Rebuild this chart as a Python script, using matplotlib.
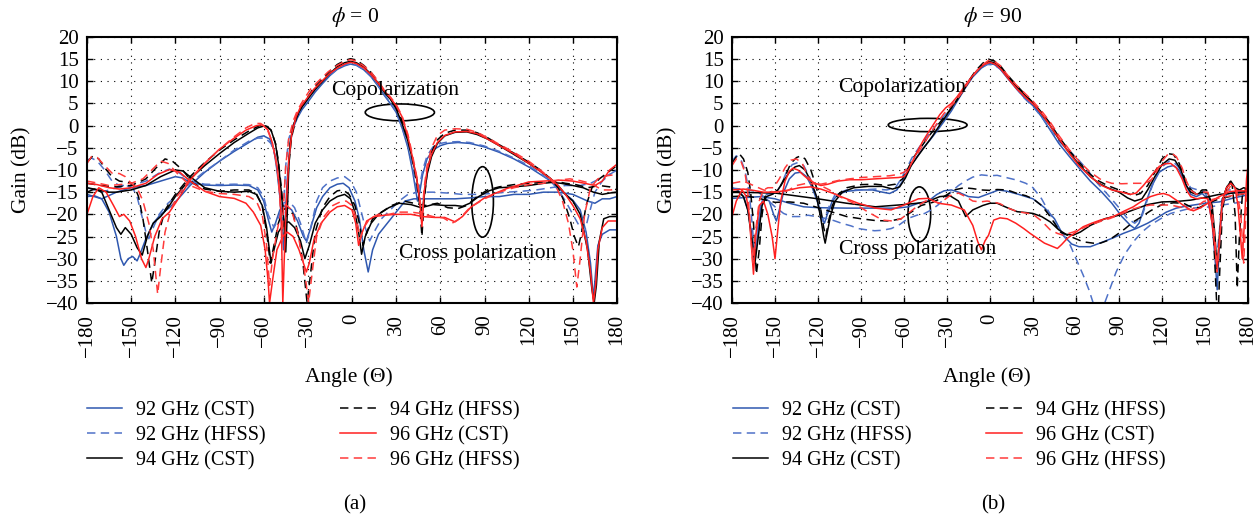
import matplotlib.pyplot as plt
import numpy as np
from matplotlib.patches import Ellipse

plt.rcParams["font.family"] = ["Liberation Serif", "DejaVu Serif"]
plt.rcParams["mathtext.fontset"] = "stix"

# ---------------- panel (a): phi = 0 ----------------
# copolarization
A_CO_92_CST = [(-180, -16), (-175, -15.8), (-170, -16.5), (-165, -19.5), (-160, -25), (-157, -30), (-155, -31.5),
               (-152, -30), (-149, -29.5), (-146, -30.5), (-144, -29), (-140, -25.5), (-135, -22), (-130, -20),
               (-124, -18.5), (-118, -16.5), (-110, -13.5), (-100, -10.5), (-90, -8), (-80, -5.8), (-70, -3.8),
               (-64, -2.6), (-60, -2.3), (-56, -3), (-53, -5.5), (-51, -10), (-49, -16), (-47.5, -23), (-46.5, -28),
               (-45.5, -22), (-44, -12), (-42, -4), (-40, -0.5), (-37, 1.8), (-34, 3.6), (-30, 5.3), (-25, 7.6),
               (-20, 9.5), (-15, 11.3), (-10, 12.7), (-5, 13.5), (-1, 13.9), (3, 13.6), (8, 12.6), (13, 11),
               (18, 8.8), (22, 6.8), (26, 5), (30, 3), (34, -0.5), (38, -5), (41, -10), (43, -14), (44.5, -17),
               (46, -15), (48, -11), (51, -7.5), (55, -5.5), (60, -4.5), (65, -4), (72, -3.8), (80, -4), (90, -4.8),
               (100, -6), (110, -7.5), (120, -9.3), (128, -11), (135, -12.5), (140, -14), (145, -15.5), (150, -16.8),
               (155, -19), (159, -24), (162, -31), (164, -39), (165.5, -33), (167, -27), (170, -24.5), (175, -23.5),
               (180, -23.5)]
A_CO_92_HFSS = [(-180, -7.8), (-177, -7.3), (-173, -8), (-168, -10), (-163, -12.5), (-158, -13.5), (-153, -13.5),
                (-149, -14), (-146, -16), (-143, -20), (-140, -24), (-138, -25.5), (-135, -23), (-131, -20),
                (-125, -17.5), (-118, -15.5), (-110, -13), (-100, -10.3), (-90, -8), (-80, -5.5), (-70, -3.5),
                (-64, -2.8), (-59, -2.8), (-55, -4), (-52, -7), (-50, -12), (-48.5, -18), (-47.5, -25),
                (-46.5, -18), (-45, -9), (-43, -3), (-40, 0), (-37, 2.3), (-33, 4.5), (-28, 7), (-22, 9.2),
                (-16, 11.2), (-10, 12.8), (-5, 13.7), (-1, 14), (3, 13.7), (8, 12.7), (13, 11.2), (18, 9), (22, 7),
                (26, 5.2), (30, 3.2), (34, -0.3), (38, -4.5), (41, -9), (43, -13), (44.5, -15.5), (46, -13.5),
                (48, -10), (51, -6.8), (55, -4.8), (60, -4), (65, -3.7), (72, -3.6), (80, -3.8), (90, -4.6),
                (100, -5.8), (110, -7.3), (120, -9), (128, -10.8), (135, -12.5), (140, -14.5), (145, -17),
                (150, -20), (155, -23), (158, -24), (161, -20), (165, -15), (170, -12.5), (175, -11), (180, -10)]
A_CO_94_CST = [(-180, -15), (-175, -14.3), (-170, -15), (-165, -19), (-160, -23), (-157, -24.5), (-154, -23),
               (-150, -24.5), (-146, -27.5), (-142.5, -29.2), (-139, -25), (-135, -22), (-130, -20.5), (-125, -18.5),
               (-120, -16), (-110, -12), (-100, -9), (-90, -6.3), (-80, -3.8), (-70, -1.7), (-64, -0.5), (-59, 0),
               (-55, -1), (-52, -4), (-50, -8.5), (-48, -15), (-46.5, -21), (-45, -28.5), (-44, -20), (-43, -10),
               (-42, -4), (-40, 0), (-37, 2.5), (-34, 4.2), (-30, 6), (-25, 8.2), (-20, 10), (-15, 11.8),
               (-10, 13.3), (-5, 14.2), (-1, 14.5), (3, 14.2), (8, 13.2), (13, 11.6), (18, 9.5), (22, 7.5),
               (26, 6), (30, 3.8), (34, 0.5), (38, -3.5), (41, -7.5), (44, -12), (46, -17), (47.5, -20),
               (49, -16), (51, -11), (54, -7), (58, -4), (63, -2.3), (70, -1.5), (78, -1.4), (85, -2), (92, -3),
               (100, -4.5), (110, -6.5), (120, -8.5), (128, -10.3), (135, -12), (140, -13.5), (145, -15.5),
               (150, -17), (155, -20), (160, -28), (163, -37), (164.5, -40), (166, -36), (168, -26), (171, -21),
               (175, -20.5), (180, -20.5)]
A_CO_94_HFSS = [(-180, -8.3), (-176, -6.8), (-172, -7.5), (-168, -9.5), (-163, -11.5), (-158, -12.5), (-152, -12.8),
                (-148, -13.5), (-145, -16), (-142, -21), (-139, -28), (-136, -35.5), (-134, -31), (-131, -24),
                (-127, -19), (-120, -15.5), (-110, -11.5), (-100, -8.3), (-90, -5.5), (-80, -3.2), (-70, -1.2),
                (-63, 0), (-59, 0.2), (-55, -1), (-52, -4), (-50, -8), (-48, -14), (-46.5, -20), (-45.5, -27),
                (-44.5, -19), (-43, -9), (-41, -2.5), (-38, 1.5), (-35, 3.8), (-31, 6), (-26, 8.5), (-20, 10.5),
                (-15, 12.3), (-10, 13.8), (-5, 14.7), (-1, 15.1), (3, 14.8), (8, 13.6), (13, 12), (18, 9.8),
                (22, 7.8), (26, 6.2), (30, 4.2), (34, 1.2), (38, -3), (41, -7.5), (44, -13), (46, -18),
                (47.5, -25), (49, -17), (51, -10.5), (54, -6), (58, -3.2), (63, -1.7), (70, -1), (78, -1),
                (85, -1.6), (92, -2.7), (100, -4.3), (110, -6.2), (120, -8.2), (128, -10), (135, -12), (140, -14),
                (144, -17), (148, -21), (151, -25), (153.8, -27.3), (156, -24), (159, -18), (163, -14), (168, -12),
                (174, -10.5), (180, -9)]
A_CO_96_CST = [(-180, -20), (-176, -16), (-172, -14), (-167, -15), (-162, -18), (-158, -20.5), (-155, -20),
               (-151, -21.5), (-147, -25), (-143, -30), (-140, -32), (-138, -30), (-134, -25), (-129, -21),
               (-124, -19.5), (-118, -16.5), (-110, -12.3), (-100, -8.5), (-90, -5.3), (-80, -2.8), (-72, -1),
               (-65, 0), (-61, 0.2), (-57, -1), (-54, -4), (-51, -9), (-49, -15), (-48, -22), (-47, -40),
               (-46, -30), (-45, -20), (-43, -8), (-41, -2), (-38, 2), (-35, 4.2), (-31, 6), (-26, 8.2),
               (-20, 10.2), (-15, 11.8), (-10, 13), (-5, 13.9), (-1, 14.3), (3, 14), (8, 13), (13, 11.5),
               (18, 9.5), (22, 7.8), (26, 6.3), (30, 4.5), (34, 2), (38, -2.5), (41, -7), (44, -12), (46, -17),
               (47.5, -22.8), (49, -15), (51, -10), (54, -6.5), (58, -3.8), (63, -2.2), (70, -1.4), (78, -1.3),
               (85, -1.8), (92, -3), (100, -4.5), (110, -6.3), (120, -8.5), (128, -10.3), (135, -12), (140, -13.5),
               (145, -15.5), (150, -18), (155, -21), (159, -26), (162, -33), (164, -40), (165.5, -36), (167, -28),
               (170, -23), (174, -21.5), (180, -21.5)]
A_CO_96_HFSS = [(-180, -8.5), (-177, -7), (-173, -7.2), (-168, -9), (-163, -10.7), (-158, -10.8), (-154, -11.5),
                (-150, -13), (-146, -14), (-142, -17), (-138, -22), (-135, -28), (-132, -38), (-130, -32),
                (-127, -24), (-123, -19), (-119, -16), (-110, -12), (-100, -8.5), (-90, -5.3), (-80, -2.5),
                (-72, -0.5), (-66, 0.5), (-62, 0.5), (-58, -0.5), (-55, -3), (-52, -7), (-50, -12), (-48.5, -19),
                (-47.5, -26), (-46.5, -18), (-45, -9), (-43, -3), (-40, 1), (-37, 3.5), (-33, 5.8), (-28, 8.3),
                (-22, 10.3), (-16, 12.2), (-10, 13.6), (-5, 14.5), (-1, 14.9), (3, 14.6), (8, 13.5), (13, 12),
                (18, 10), (22, 8), (26, 6.5), (30, 4.8), (34, 2.2), (38, -2), (41, -6.5), (44, -11.5), (46, -16),
                (47.5, -21), (49, -14), (51, -9), (54, -5), (58, -2.2), (63, -1), (70, -0.7), (78, -0.8),
                (85, -1.5), (92, -2.7), (100, -4.2), (110, -6), (120, -8), (128, -10), (135, -12), (139, -14),
                (143, -17), (147, -22), (150, -28), (152.7, -36.4), (155, -30), (158, -20), (162, -14), (167, -12),
                (173, -11.3), (180, -11)]
# cross polarization
A_X_92_CST = [(-180, -15.5), (-170, -16.5), (-160, -15), (-150, -14), (-140, -13.5), (-130, -12.5), (-120, -11.5),
              (-115, -11.8), (-110, -12.8), (-100, -13.4), (-90, -13.5), (-80, -13.4), (-70, -13.5), (-64, -14.5),
              (-60, -17), (-57, -21), (-54.5, -24), (-52, -22), (-49, -19), (-45, -18), (-41, -19), (-37, -21.5),
              (-33, -25), (-31, -26), (-28, -23), (-24, -18.5), (-20, -16), (-15, -14), (-10, -13.2), (-6, -13),
              (-2, -14), (2, -17), (5, -21), (8, -28), (11, -33), (14, -28), (18, -24.5), (24, -22), (30, -19.5),
              (36, -17), (42, -16.5), (50, -16.5), (60, -16.5), (70, -16.5), (80, -16.3), (90, -16), (100, -16),
              (110, -15.5), (120, -15.5), (130, -15), (140, -15), (150, -15.5), (160, -17), (165, -17.5),
              (170, -16.5), (175, -16.5), (180, -16)]
A_X_92_HFSS = [(-180, -14), (-170, -15), (-160, -14), (-150, -13.5), (-140, -12.5), (-130, -10.5), (-124, -9.8),
               (-118, -10.5), (-110, -12.5), (-100, -13.2), (-90, -13.3), (-80, -13.2), (-70, -13.3), (-64, -14),
               (-60, -16), (-57, -20), (-53, -23), (-50, -21), (-47, -17.5), (-43, -17), (-39, -18.5), (-35, -22),
               (-31, -26.5), (-28, -23), (-24, -17), (-20, -14), (-15, -12.5), (-10, -11.8), (-5, -11.5),
               (-1, -12.5), (3, -15), (6, -19), (9, -23), (12, -26), (15, -24), (20, -21), (26, -19), (32, -17),
               (38, -15.5), (45, -15), (55, -15), (65, -15.2), (75, -15.5), (85, -15.5), (95, -15.3), (105, -15),
               (115, -14.8), (125, -14.5), (135, -14), (145, -13.5), (155, -13.5), (162, -13), (168, -12),
               (175, -11), (180, -10.5)]
A_X_94_CST = [(-180, -14), (-172, -14.5), (-165, -15), (-160, -15), (-150, -14.5), (-140, -13.5), (-130, -11.5),
              (-120, -10), (-115, -10.2), (-110, -11.5), (-100, -14), (-90, -14.8), (-80, -15), (-70, -14.8),
              (-65, -15.5), (-61, -18), (-58, -23), (-55, -31), (-53, -28), (-50, -24), (-46, -22), (-43, -21.7),
              (-39, -23), (-35, -26), (-32, -30), (-29, -27), (-25, -22), (-20, -19), (-15, -17), (-10, -16),
              (-5, -15.5), (-1, -16.5), (2, -19.5), (4.5, -24), (6.5, -29), (9, -25), (13, -22), (18, -20),
              (25, -18.5), (32, -17.5), (40, -17.8), (47, -18.5), (55, -17.8), (63, -18), (70, -18), (75, -18.2),
              (80, -17.5), (86, -16), (93, -14.7), (100, -14), (110, -13.8), (120, -13.5), (130, -13), (136, -12.8),
              (142, -13), (150, -13.5), (157, -14), (164, -15), (170, -15.5), (175, -15.2), (180, -15)]
A_X_94_HFSS = [(-180, -13), (-170, -13.5), (-160, -13.8), (-150, -13.5), (-140, -12), (-133, -9.5), (-127, -7.5),
               (-122, -8), (-115, -10), (-108, -13), (-100, -14.3), (-90, -14.8), (-80, -14.5), (-70, -14.5),
               (-65, -15.3), (-61, -18), (-58, -24), (-55.5, -31), (-53, -27), (-50, -22), (-47, -19), (-44, -18.5),
               (-40, -20), (-36, -25), (-33, -32), (-30.5, -40), (-28, -33), (-25, -24), (-20, -18.5), (-15, -16),
               (-10, -14.7), (-6, -14.5), (-2, -15.5), (2, -18), (5, -22), (7.5, -27), (10, -24), (14, -21),
               (20, -19.5), (27, -18), (35, -17), (42, -17.5), (50, -18), (58, -17.5), (65, -18.5), (72, -18.7),
               (78, -18), (85, -16), (92, -14.5), (100, -13.8), (110, -13.3), (120, -13), (130, -12.8),
               (138, -12.5), (145, -13), (152, -13.3), (160, -14), (168, -13.5), (175, -13.8), (180, -14.5)]
A_X_96_CST = [(-180, -13), (-173, -13.3), (-165, -14), (-158, -14.3), (-150, -14), (-140, -13), (-132, -11),
              (-124, -9.9), (-117, -10.5), (-110, -12.5), (-100, -14.8), (-90, -16), (-80, -16.4), (-72, -17.5),
              (-67, -19.5), (-62, -22.5), (-59, -28), (-57, -35), (-56, -40), (-54, -35), (-51, -28), (-47, -25),
              (-44, -24), (-40, -25), (-36, -28), (-33, -31), (-31, -33), (-29, -31), (-26, -26), (-21, -22),
              (-15, -19.5), (-10, -18.3), (-5, -18), (0, -19), (2.5, -22), (4.5, -27), (7, -24), (10, -21.5),
              (15, -20.5), (22, -20.2), (30, -20), (40, -20), (48, -20.5), (56, -20.7), (63, -20.7), (70, -21.7),
              (75, -20.5), (81, -18.3), (90, -16.3), (97, -15.3), (105, -14.2), (115, -13.2), (120, -12.7),
              (130, -12.5), (142, -12.3), (150, -12.5), (158, -13), (165, -13.5), (170, -12.5), (175, -10),
              (180, -8.7)]
A_X_96_HFSS = [(-180, -12.5), (-172, -13), (-165, -13.5), (-158, -13.3), (-150, -13), (-142, -12), (-136, -10),
               (-130, -8), (-125, -8.5), (-118, -11), (-110, -13.5), (-100, -14.8), (-90, -15.3), (-80, -15.5),
               (-70, -16), (-65, -17), (-61, -20), (-58, -27), (-56, -36), (-54, -30), (-51, -24), (-48, -19),
               (-45, -17.8), (-41, -19), (-37, -24), (-33, -31), (-31, -36), (-29.5, -40), (-27, -33), (-24, -25),
               (-19, -20.5), (-13, -18), (-8, -17.2), (-4, -17), (0, -18), (3, -21), (5.5, -25.5), (8, -23),
               (12, -21), (18, -20), (25, -20), (32, -19.5), (40, -19.5), (47, -19.8), (55, -20.5), (62, -20.8),
               (68, -22), (73, -21), (80, -18.5), (90, -16.5), (100, -15), (110, -14), (120, -13.3), (130, -13),
               (140, -12.3), (148, -12), (155, -12.4), (162, -13), (170, -14.5), (176, -14.5), (180, -14)]

# ---------------- panel (b): phi = 90 ----------------
B_CO_92_CST = [(-180, -14), (-176, -14.5), (-172, -16), (-169, -19), (-166, -25), (-164.5, -30), (-163, -27),
               (-160, -18), (-157, -16.5), (-154, -17), (-151, -20), (-149, -21.5), (-147, -19), (-144, -15),
               (-140, -12), (-136, -10.7), (-132, -10.5), (-128, -11.5), (-124, -14), (-120, -17.5), (-117, -21),
               (-115.5, -22), (-113.5, -20), (-110, -17), (-106, -15.5), (-100, -14.8), (-90, -14.5), (-82, -14.5),
               (-75, -15), (-70, -15.3), (-65, -14.5), (-61, -12.5), (-57, -10), (-52, -7.5), (-47, -5.2),
               (-42, -3.3), (-37, -1.2), (-32, 1), (-27, 3.3), (-22, 6), (-17, 8.6), (-12, 11), (-6, 13), (-1, 14),
               (3, 13.8), (7, 12.8), (12, 10.8), (18, 8.5), (24, 6.3), (30, 4.5), (36, 2), (42, -1), (48, -4),
               (55, -6.8), (62, -9.5), (70, -12.5), (78, -15), (85, -17.5), (92, -20.5), (98, -22.5), (101, -23.2),
               (104, -22), (108, -18), (113, -13.5), (118, -10.5), (124, -9.3), (128, -9), (132, -10), (136, -13),
               (140, -15.5), (144, -16), (148, -15.3), (152, -16.5), (155, -22), (157, -30), (158.5, -37),
               (160, -27), (162, -18), (165, -15.5), (170, -15), (175, -15.5), (180, -15)]
B_CO_92_HFSS = [(-180, -8), (-177, -6.8), (-174, -7.5), (-171, -10), (-168, -15), (-166, -22), (-164, -30),
                (-162, -23), (-159, -17), (-156, -15.5), (-153, -15.3), (-150, -15.5), (-146, -13.5), (-142, -10.5),
                (-138, -8.8), (-134, -8.3), (-130, -9), (-126, -11.5), (-122, -15), (-119, -19), (-117, -21.5),
                (-115, -20.5), (-112, -18), (-108, -15.5), (-100, -14.5), (-90, -14.5), (-80, -14.3), (-72, -14.5),
                (-66, -14), (-62, -12), (-58, -9.5), (-54, -7), (-49, -4.7), (-44, -2.5), (-39, -0.5), (-34, 1.5),
                (-29, 3.3), (-24, 5.5), (-19, 8), (-14, 10.5), (-8, 12.8), (-2, 13.8), (3, 13.7), (7, 12.8),
                (12, 11), (18, 8.5), (24, 6.2), (30, 4.3), (36, 2), (42, -0.8), (48, -3.5), (55, -5.5), (62, -7.8),
                (68, -10), (75, -13), (82, -15.5), (90, -18.5), (96, -21), (101, -22), (106, -20.5), (110, -16.5),
                (115, -12), (120, -9.3), (125, -8), (128, -8.2), (132, -9.5), (136, -12), (140, -14), (145, -14.5),
                (150, -15), (154, -18), (156, -24), (158, -30), (160, -24), (162, -16), (165, -14.5), (170, -14.5),
                (175, -15), (180, -15.5)]
B_CO_94_CST = [(-180, -15), (-176, -14.8), (-172, -16), (-169, -19), (-166, -26), (-164, -31), (-162, -26),
               (-159, -18), (-156, -16), (-152, -15.5), (-148, -14.5), (-144, -12.5), (-140, -10.5), (-136, -9.3),
               (-133, -9), (-129, -10), (-125, -12.5), (-121, -16), (-118, -21), (-116, -25), (-115, -26.5),
               (-113.5, -24), (-111, -20), (-108, -17), (-103, -15), (-95, -14), (-85, -13.7), (-75, -13.7),
               (-68, -14.3), (-63, -13.8), (-59, -11.8), (-55, -9), (-50, -6.7), (-45, -4.5), (-40, -2.3),
               (-35, 0.2), (-30, 2.5), (-26, 4.5), (-22, 6.3), (-17, 8.8), (-12, 11.3), (-6, 13.4), (-1, 14.5),
               (3, 14.2), (7, 13.2), (12, 11.2), (18, 9), (24, 7), (30, 5), (36, 2.6), (42, 0), (48, -3), (55, -6),
               (62, -8.7), (70, -11.5), (76, -13), (82, -14), (90, -15), (96, -16.3), (101, -17), (106, -16.5),
               (110, -14.5), (115, -11.5), (120, -8.8), (125, -7.5), (129, -7.8), (133, -9.8), (137, -13.5),
               (140, -15), (144, -15.5), (148, -15), (152, -15.2), (155, -18), (157, -25), (158.5, -33), (160, -25),
               (162, -17), (165, -14), (168, -12.5), (171, -14), (174, -14.5), (177, -14), (180, -14.3)]
B_CO_94_HFSS = [(-180, -8.5), (-177, -7), (-175, -6.3), (-172, -7.5), (-169, -10.5), (-167, -15), (-165, -22),
                (-163, -33.5), (-161, -28), (-159, -20), (-157, -16), (-154, -15), (-150, -15), (-147, -14.2),
                (-143, -11.5), (-139, -8.5), (-135, -7.2), (-132, -6.8), (-129, -7.5), (-125, -10), (-121, -14),
                (-118, -19), (-116, -23), (-114.5, -25), (-113, -22), (-110, -18), (-106, -15.5), (-100, -14),
                (-90, -13.3), (-80, -13.2), (-72, -13.5), (-66, -13.2), (-61, -12), (-57, -9.5), (-53, -7),
                (-48, -4.8), (-43, -2.5), (-38, -0.5), (-33, 1.5), (-28, 3.5), (-24, 5.3), (-20, 7.3), (-15, 10),
                (-10, 12.4), (-5, 14.1), (-1, 15), (3, 14.6), (7, 13.6), (12, 11.5), (18, 9.3), (24, 7.2), (30, 5.2),
                (36, 3), (42, 0.5), (48, -2.5), (55, -5.5), (62, -8.2), (70, -11), (76, -12.5), (82, -13.5),
                (90, -14.5), (96, -15.3), (100, -15.8), (105, -15.3), (110, -13.5), (115, -10.5), (120, -7.5),
                (124, -6.3), (128, -6.5), (132, -8.5), (136, -12), (139, -14), (142, -15), (145, -15.3), (148, -14.5),
                (151, -14.5), (154, -17), (156, -25), (158, -39), (159, -45), (160, -35), (162, -20), (164, -15),
                (167, -12.5), (169, -13.5), (171, -20), (172.5, -36.7), (174, -25), (176, -16), (178, -14.5),
                (180, -14)]
B_CO_96_CST = [(-180, -20.5), (-177, -17), (-173, -14.5), (-170, -16), (-168, -20), (-166.5, -27), (-165, -33.5),
               (-163.5, -25), (-161, -18), (-158, -17), (-155, -20), (-152, -25), (-150, -30), (-148.5, -25),
               (-146, -17), (-143, -12.5), (-140, -10.3), (-137.5, -9.6), (-134, -10), (-130, -11.2), (-126, -12.3),
               (-122, -13), (-118, -13.5), (-113, -13.2), (-106, -12.5), (-98, -12.2), (-90, -12.2), (-80, -12),
               (-70, -11.8), (-64, -11.7), (-60, -11.5), (-57, -10), (-54, -8), (-51, -6), (-47, -3.6),
               (-43, -1.5), (-39, 0.5), (-35, 2.5), (-31, 4), (-27, 5), (-23, 6.5), (-19, 8.3), (-14, 10.5),
               (-9, 12.5), (-4, 13.8), (0, 14.3), (4, 13.8), (8, 12.6), (13, 10.5), (19, 8.2), (25, 6.3), (31, 4.6),
               (37, 2.3), (43, -0.5), (50, -3.8), (56, -6.5), (62, -9), (70, -11.5), (78, -13.5), (85, -14.5),
               (92, -15), (98, -15.5), (102, -15.2), (107, -13.5), (112, -11.5), (117, -9.5), (122, -8.6),
               (126, -8.5), (130, -9.5), (134, -12), (137, -14.5), (140, -16), (144, -16.5), (148, -16.3),
               (152, -16.5), (155, -22), (157, -28), (158.5, -32), (160, -26), (162, -17), (165, -14), (168, -13),
               (171, -14), (173, -18), (176, -30), (177.5, -22), (179, -12), (180, -9)]
B_CO_96_HFSS = [(-180, -9), (-177, -7.5), (-174, -7.8), (-171, -10.5), (-169, -15), (-167, -24), (-165.5, -31),
                (-164, -25), (-161, -17), (-158, -14.5), (-155, -14), (-151, -14), (-147, -12), (-143, -9.5),
                (-139, -7.8), (-135, -7.5), (-131, -8.5), (-127, -11.5), (-123, -13), (-118, -13.2), (-112, -12.8),
                (-105, -12.3), (-98, -12), (-90, -11.7), (-80, -11.5), (-70, -11.3), (-64, -11), (-60, -10.5),
                (-56, -9), (-52, -7), (-48, -5), (-44, -3), (-40, -1), (-36, 1), (-32, 2.8), (-28, 4.2), (-24, 5.5),
                (-20, 7.3), (-15, 9.8), (-10, 12), (-5, 13.8), (-1, 14.7), (3, 14.5), (7, 13.6), (12, 11.5),
                (18, 9.3), (24, 7.4), (30, 5.5), (36, 3.3), (42, 0.8), (48, -2.2), (55, -5.3), (62, -8), (70, -10.5),
                (78, -12.3), (85, -13), (92, -13.1), (100, -13), (107, -13), (112, -12.5), (116, -10.5), (120, -8),
                (124, -6.5), (127, -6.3), (130, -7), (134, -9.5), (137, -12.5), (140, -14.5), (144, -15.5),
                (148, -15), (152, -15), (155, -19), (157, -26), (158.5, -33), (160, -27), (162, -18), (165, -15),
                (168, -13.5), (172, -14.5), (175, -20), (177, -31), (178.5, -20), (180, -12)]
B_X_92_CST = [(-180, -16.4), (-170, -16.2), (-160, -16), (-150, -16.5), (-140, -17.5), (-130, -18.3), (-120, -18.5),
              (-100, -18.6), (-80, -18.6), (-65, -18.6), (-57, -18.3), (-50, -17.5), (-43, -17), (-37, -15.5),
              (-32, -14.7), (-27, -14.5), (-22, -15), (-15, -16), (-8, -16.2), (-3, -15.6), (2, -15), (6, -14.5),
              (12, -14.8), (20, -15.5), (30, -16.5), (38, -18.5), (45, -21), (51, -24.7), (57, -26.7), (62, -27.3),
              (70, -27.3), (79, -26.2), (86, -25.3), (93, -24.3), (102, -23.2), (110, -22), (116, -20.9),
              (123, -19.5), (130, -18.6), (136, -18.2), (142, -17.9), (150, -17.5), (160, -17.2), (170, -16.3),
              (180, -15.6)]
B_X_92_HFSS = [(-180, -14.1), (-170, -14.4), (-162, -14.9), (-156, -16.5), (-150, -18.3), (-144, -19.8),
               (-138.6, -20.5), (-133, -20.5), (-127, -20.2), (-121, -20.5), (-115, -20.9), (-109, -21.4),
               (-103.7, -22), (-97, -22.6), (-92, -23.2), (-86, -23.5), (-80.5, -23.7), (-75, -23.6), (-68.8, -23.2),
               (-63, -22.3), (-57, -20.9), (-51, -20.2), (-45.6, -19.8), (-41, -19), (-36.3, -17.9), (-32, -16.5),
               (-27, -14.9), (-22, -13.5), (-17.7, -12.6), (-12, -11.6), (-6, -11.1), (0, -11.3), (5, -11.2),
               (10, -11.6), (19, -12.3), (25, -13), (30, -14), (36, -16.5), (42, -20), (48, -23.5), (53, -25.5),
               (56, -27), (60, -30), (65, -33.7), (69, -37), (72, -40), (76, -45), (80, -40), (84, -36.5),
               (88, -33), (94, -29), (100, -26.2), (106, -24), (112, -22.4), (119, -21), (126, -19.8), (133, -19.2),
               (140, -18.6), (147, -18.5), (153.5, -18.3), (160, -18), (170, -17.5), (180, -17)]
B_X_94_CST = [(-180, -15), (-150, -15.2), (-120, -16.5), (-100, -17.5), (-80, -18.3), (-60, -17.8), (-45, -17.3),
              (-35, -16), (-28, -15.8), (-22, -17), (-17, -20.5), (-12, -19), (-5, -18), (0, -17.5), (5, -17.5),
              (12, -18.5), (19, -19.4), (25, -19.6), (30, -19.8), (36, -20.5), (42, -21.7), (48, -23.5), (53, -24.5),
              (58, -24.7), (63, -24), (70, -22.5), (80, -21), (90, -20.2), (100, -19), (110, -17.8), (120, -17.2),
              (130, -17.1), (140, -16.8), (150, -16.2), (160, -15.5), (170, -15.2), (180, -14.8)]
B_X_94_HFSS = [(-180, -16), (-170, -15.8), (-160, -16.5), (-150, -17.3), (-140, -17.2), (-130, -17.5), (-120, -18.5),
               (-110, -19.5), (-100, -20.5), (-90, -21), (-80, -21.4), (-70, -21.5), (-62, -21), (-55, -19.5),
               (-48, -18), (-40, -17.3), (-33, -16.2), (-25, -14.5), (-18, -14), (-12, -14.2), (-6, -14.5),
               (0, -14.6), (5, -14.4), (12, -14.5), (19, -15.3), (25, -15.8), (30, -16.5), (36, -18), (42, -20.5),
               (49, -24), (56, -25), (65, -26.2), (72, -26.5), (77, -26.5), (83, -25.8), (88, -24.7), (94, -23.3),
               (100, -21.7), (106, -20.5), (112, -19.2), (120, -17.8), (128, -17.4), (135, -17.5), (140, -18.3),
               (146, -18.5), (152, -17.5), (160, -16.5), (170, -15.8), (180, -15.2)]
B_X_96_CST = [(-180, -14.5), (-172, -14.3), (-165, -14.6), (-158, -15), (-150, -15), (-140, -14.5), (-133, -14),
              (-125, -13.8), (-118, -14.3), (-110, -15.2), (-104, -16), (-92, -17.5), (-80, -18.6), (-69, -19),
              (-60, -17.9), (-50, -16.5), (-43, -16.4), (-36, -17.5), (-27, -17.9), (-18, -19), (-12, -22.5),
              (-8.5, -26.2), (-6, -28), (-3.5, -26), (-1, -24.7), (2.6, -21.3), (7, -20.8), (12, -21), (18, -22),
              (23.5, -23.2), (28, -24.3), (33, -25.4), (38, -26.5), (44, -27.3), (47, -27.7), (50, -26.8),
              (54, -25.4), (60, -24), (65, -22.8), (71, -22), (77, -21.3), (83, -20.8), (88, -20.2), (94, -19.2),
              (100, -18.3), (106, -17), (112, -16), (117, -15.5), (121, -15.3), (125, -15.7), (130, -16.8),
              (135, -18), (140, -19), (142, -19.2), (147, -18.5), (154, -17.1), (160, -16), (167, -14.9),
              (173, -14.7), (180, -14.7)]
B_X_96_HFSS = [(-180, -13), (-172, -12.5), (-165, -13.5), (-158, -14.5), (-150, -15), (-142, -14.8), (-135, -13.5),
               (-128, -13), (-120, -13.2), (-112, -14.5), (-105, -16), (-95, -17.5), (-85, -19.5), (-75, -21.3),
               (-68, -21.5), (-62, -21), (-56, -19.5), (-50, -18), (-45, -17), (-40, -17), (-35, -17.5),
               (-28, -15.8), (-22, -15.2), (-17, -16), (-12, -17), (-7, -17.2), (-2, -17), (2, -17.2), (7, -17.6),
               (12, -18.5), (19, -19.4), (25, -19.7), (30, -20), (36, -21.5), (42, -23.5), (47, -24.3), (51, -24.7),
               (58, -24), (64, -23.2), (70, -22.4), (77, -21.6), (84, -20.9), (91, -20), (98, -19), (105, -18.3),
               (112, -17.9), (120, -17.9), (126, -17.9), (133, -18.4), (140, -19), (144, -18.3), (149, -17.1),
               (157, -16.5), (165, -16), (172, -15.6), (180, -15.2)]

LABELS = ["92 GHz (CST)", "92 GHz (HFSS)", "94 GHz (CST)", "94 GHz (HFSS)", "96 GHz (CST)", "96 GHz (HFSS)"]
COLORS = ["#2f58b0", "#4f72c8", "black", "black", "#ff2020", "#ff3a3a"]
DASH = (0, (5.5, 3.5))
STYLES = ["-", DASH, "-", DASH, "-", DASH]

PANEL_A = [(A_CO_92_CST, A_X_92_CST), (A_CO_92_HFSS, A_X_92_HFSS), (A_CO_94_CST, A_X_94_CST),
           (A_CO_94_HFSS, A_X_94_HFSS), (A_CO_96_CST, A_X_96_CST), (A_CO_96_HFSS, A_X_96_HFSS)]
PANEL_B = [(B_CO_92_CST, B_X_92_CST), (B_CO_92_HFSS, B_X_92_HFSS), (B_CO_94_CST, B_X_94_CST),
           (B_CO_94_HFSS, B_X_94_HFSS), (B_CO_96_CST, B_X_96_CST), (B_CO_96_HFSS, B_X_96_HFSS)]

W, H = 1260, 517
FS = 15


def setup(ax):
    ax.set_xlim(-180, 180)
    ax.set_ylim(-40, 20)
    ax.set_xticks(np.arange(-180, 181, 30))
    ax.set_yticks(np.arange(-40, 21, 5))
    ax.tick_params(direction="in", length=4, width=1, top=True, right=True, labelsize=FS)
    ax.tick_params(axis="x", labelrotation=90, pad=8)
    ax.tick_params(axis="y", pad=6)
    ax.grid(True, color="black", linestyle=(0, (1, 5)), linewidth=0.8)
    for s in ax.spines.values():
        s.set_linewidth(1.5)


def draw(ax, panel):
    for (co, xp), lab, col, ls in zip(panel, LABELS, COLORS, STYLES):
        co = np.array(co)
        xp = np.array(xp)
        ax.plot(co[:, 0], co[:, 1], color=col, linestyle=ls, linewidth=1.1, label=lab)
        ax.plot(xp[:, 0], xp[:, 1], color=col, linestyle=ls, linewidth=1.1)


def main():
    fig = plt.figure(figsize=(W / 100, H / 100), dpi=100)
    ax_a = fig.add_axes([87 / W, 1 - 303 / H, 530 / W, 266 / H])
    ax_b = fig.add_axes([732 / W, 1 - 303 / H, 516 / W, 266 / H])

    for ax, panel in [(ax_a, PANEL_A), (ax_b, PANEL_B)]:
        setup(ax)
        draw(ax, panel)

    # annotations panel (a)
    ax_a.add_patch(Ellipse((32.5, 3), 47, 3.8, fill=False, color="black", lw=1.2))
    ax_a.add_patch(Ellipse((88.7, -17.2), 14.7, 15.9, fill=False, color="black", lw=1.2))
    ax_a.text(29.5, 8, "Copolarization", fontsize=15.5, ha="center", va="center")
    ax_a.text(85, -28.8, "Cross polarization", fontsize=15.5, ha="center", va="center")
    # annotations panel (b)
    ax_b.add_patch(Ellipse((-43.5, 0.15), 55, 3, fill=False, color="black", lw=1.2))
    ax_b.add_patch(Ellipse((-49.3, -20), 15.8, 12.4, fill=False, color="black", lw=1.2))
    ax_b.text(-61, 8.6, "Copolarization", fontsize=15.5, ha="center", va="center")
    ax_b.text(-50.8, -28, "Cross polarization", fontsize=15.5, ha="center", va="center")

    for cx, ycx, title, tag in [(355, 22, r"$\phi$ = 0", "(a)"), (993, 668, r"$\phi$ = 90", "(b)")]:
        fig.text(cx / W, 1 - 17 / H, title, fontsize=15.5, ha="center", va="center")
        fig.text((cx - 6) / W, 1 - 377 / H, "Angle (Θ)", fontsize=15.5, ha="center", va="center")
        fig.text(cx / W, 1 - 505 / H, tag, fontsize=FS, ha="center", va="center")
        fig.text(ycx / W, 1 - 170 / H, "Gain (dB)", fontsize=15.5, rotation=90, ha="center", va="center")

    for ax, x0 in [(ax_a, 87), (ax_b, 733)]:
        ax.legend(loc="upper left", bbox_to_anchor=(x0 / W, 1 - 401 / H), bbox_transform=fig.transFigure,
                  ncol=2, frameon=False, fontsize=14.5, handlelength=1.75, handletextpad=0.7,
                  columnspacing=3.7, labelspacing=0.29, borderpad=0, borderaxespad=0)

    fig.savefig("out.png", dpi=100)


if __name__ == "__main__":
    main()
